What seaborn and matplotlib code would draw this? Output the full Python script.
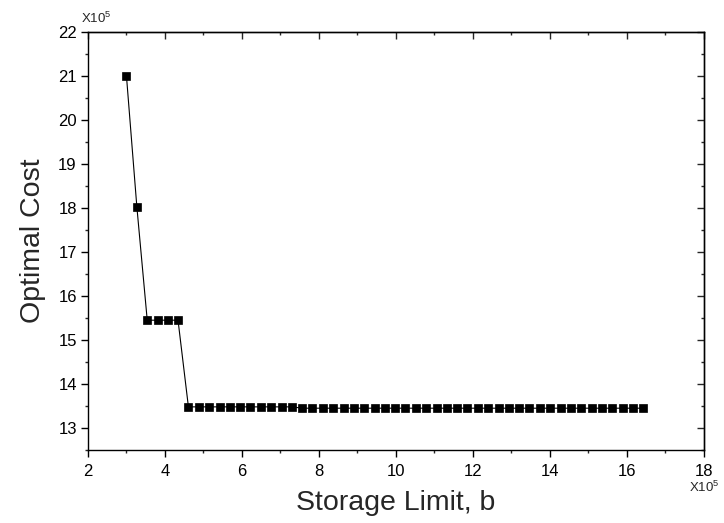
import matplotlib
matplotlib.use("Agg")
import matplotlib.pyplot as plt
from matplotlib.ticker import MultipleLocator, NullFormatter
import seaborn as sns

# storage limit b (x10^5) and optimal cost (x10^5)
storage_limit = [3.00, 3.27, 3.54, 3.81, 4.07, 4.34, 4.61, 4.88, 5.15, 5.42,
                 5.69, 5.95, 6.22, 6.49, 6.76, 7.03, 7.30, 7.57, 7.83, 8.10,
                 8.37, 8.64, 8.91, 9.18, 9.45, 9.71, 9.98, 10.25, 10.52, 10.79,
                 11.06, 11.33, 11.59, 11.86, 12.13, 12.40, 12.67, 12.94, 13.21, 13.47,
                 13.74, 14.01, 14.28, 14.55, 14.82, 15.09, 15.35, 15.62, 15.89, 16.16,
                 16.43]
optimal_cost = [21.00, 18.03, 15.45, 15.45, 15.45, 15.45,
                13.48, 13.48, 13.48, 13.48, 13.48, 13.48, 13.48, 13.48, 13.48, 13.48, 13.48,
                13.45, 13.45, 13.45, 13.45, 13.45, 13.45, 13.45, 13.45, 13.45, 13.45,
                13.45, 13.45, 13.45, 13.45, 13.45, 13.45, 13.45, 13.45, 13.45, 13.45,
                13.45, 13.45, 13.45, 13.45, 13.45, 13.45, 13.45, 13.45, 13.45, 13.45,
                13.45, 13.45, 13.45, 13.45]

sns.set_style("ticks")
plt.rcParams["font.family"] = ["Liberation Sans", "DejaVu Sans"]
plt.rcParams["mathtext.fontset"] = "custom"
plt.rcParams["mathtext.rm"] = "Liberation Sans"

fig = plt.figure(figsize=(7.24, 5.23), dpi=100)
ax = fig.add_axes([0.1215, 0.1396, 0.8505, 0.7992])

sns.lineplot(x=storage_limit, y=optimal_cost, ax=ax, sort=False, errorbar=None,
             color="black", linewidth=0.8, marker="s", markersize=5.3,
             markeredgecolor="black", markeredgewidth=0.5)

ax.set_xlim(2, 18)
ax.set_ylim(12.5, 22)
ax.xaxis.set_major_locator(MultipleLocator(2))
ax.xaxis.set_minor_locator(MultipleLocator(1))
ax.yaxis.set_major_locator(MultipleLocator(1))
ax.yaxis.set_minor_locator(MultipleLocator(0.5))
ax.tick_params(which="major", direction="out", length=5, width=1, labelsize=12,
               colors="black", pad=3)
ax.tick_params(axis="x", which="major", pad=5)
ax.tick_params(which="minor", direction="out", length=2.5, width=1)

# top/right axes with inward ticks and no labels
top = ax.secondary_xaxis("top")
top.xaxis.set_major_locator(MultipleLocator(2))
top.xaxis.set_minor_locator(MultipleLocator(1))
top.xaxis.set_major_formatter(NullFormatter())
top.tick_params(which="major", direction="in", length=5, width=1)
top.tick_params(which="minor", direction="in", length=2.5, width=1)
right = ax.secondary_yaxis("right")
right.yaxis.set_major_locator(MultipleLocator(1))
right.yaxis.set_minor_locator(MultipleLocator(0.5))
right.yaxis.set_major_formatter(NullFormatter())
right.tick_params(which="major", direction="in", length=5, width=1)
right.tick_params(which="minor", direction="in", length=2.5, width=1)

for s in ax.spines.values():
    s.set_linewidth(1)
    s.set_color("black")
for sec in (top, right):
    for s in sec.spines.values():
        s.set_linewidth(1)

ax.set_xlabel("Storage Limit, b", fontsize=20.5, labelpad=8)
ax.set_ylabel("Optimal Cost", fontsize=20.5, labelpad=9)

ax.text(0.013, 1.015, r"X10$^{5}$", transform=ax.transAxes, ha="center",
        va="bottom", fontsize=9.5)
ax.text(1.0, -0.072, r"X10$^{5}$", transform=ax.transAxes, ha="center",
        va="top", fontsize=9.5)

fig.savefig("out.png", dpi=100)
